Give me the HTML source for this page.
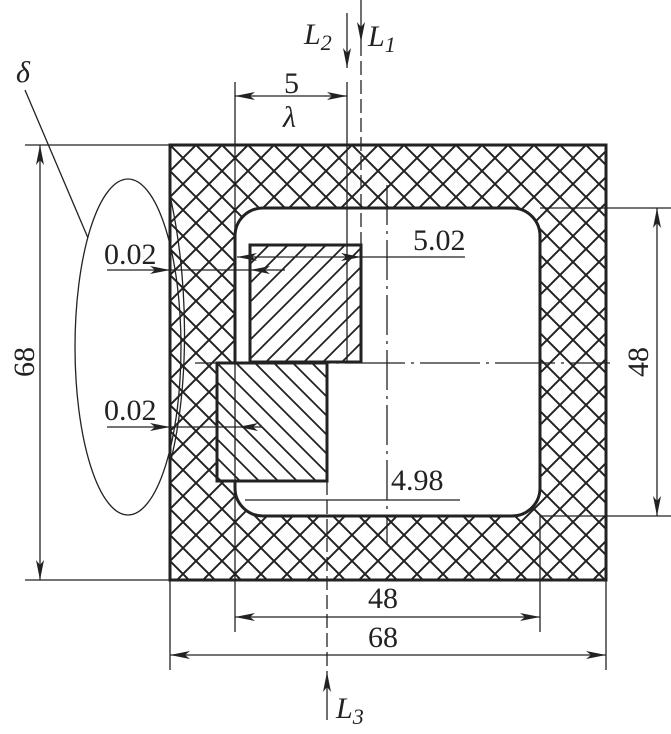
<!DOCTYPE html>
<html><head><meta charset="utf-8"><style>
html,body{margin:0;padding:0;background:#fff}
svg{display:block}
text{font-family:"Liberation Serif",serif;fill:#222}
</style></head><body>
<svg width="671" height="734" viewBox="0 0 671 734" xmlns="http://www.w3.org/2000/svg">
<defs>
<pattern id="cross" width="26" height="26" patternUnits="userSpaceOnUse" x="170" y="145">
<path d="M0 0L26 26M26 0L0 26M-2 24L2 28M24 -2L28 2M-2 2L2 -2M24 28L28 24" stroke="#222" stroke-width="2"/>
</pattern>
<pattern id="h1" width="19" height="19" patternUnits="userSpaceOnUse" x="250" y="245">
<path d="M0 19L19 0M-2 2L2 -2M17 21L21 17" stroke="#222" stroke-width="1.8"/>
</pattern>
<pattern id="h2" width="19" height="19" patternUnits="userSpaceOnUse" x="217" y="363">
<path d="M0 0L19 19M-2 17L2 21M17 -2L21 2" stroke="#222" stroke-width="1.8"/>
</pattern>
<marker id="a" viewBox="0 0 20 8" refX="20" refY="4" markerWidth="20" markerHeight="8" markerUnits="userSpaceOnUse" orient="auto-start-reverse">
<path d="M0 0L20 4L0 8L5 4Z" fill="#222"/>
</marker>
</defs>
<g fill="none" stroke="#222">
<rect x="170" y="145" width="436" height="435" fill="url(#cross)" stroke-width="3"/>
<rect x="235" y="208" width="305" height="308" rx="28" fill="#fff" stroke-width="3"/>
<rect x="250" y="245" width="111" height="117" fill="#fff" stroke-width="3"/>
<rect x="250" y="245" width="111" height="117" fill="url(#h1)" stroke-width="3"/>
<rect x="217" y="363" width="110" height="118" fill="#fff" stroke-width="3"/>
<rect x="217" y="363" width="110" height="118" fill="url(#h2)" stroke-width="3"/>
<g stroke-width="1.3">
<line x1="235" y1="82" x2="235" y2="632"/>
<line x1="540" y1="516" x2="540" y2="632"/>
<line x1="170" y1="580" x2="170" y2="670"/>
<line x1="606" y1="580" x2="606" y2="670"/>
<line x1="25" y1="145" x2="170" y2="145"/>
<line x1="25" y1="580" x2="170" y2="580"/>
<line x1="540" y1="208" x2="671" y2="208"/>
<line x1="540" y1="516" x2="671" y2="516"/>
<line x1="347" y1="82" x2="347" y2="362"/>
<line x1="361" y1="42" x2="361" y2="362" stroke-dasharray="14 5"/>
<line x1="327" y1="481" x2="327" y2="672" stroke-dasharray="14 5"/>
<line x1="387" y1="185" x2="387" y2="545" stroke-dasharray="40 6 3 6"/>
<line x1="195" y1="363" x2="610" y2="363" stroke-dasharray="60 6 3 6"/>
<line x1="40" y1="145" x2="40" y2="580" marker-start="url(#a)" marker-end="url(#a)"/>
<line x1="657" y1="208" x2="657" y2="516" marker-start="url(#a)" marker-end="url(#a)"/>
<line x1="235" y1="617" x2="540" y2="617" marker-start="url(#a)" marker-end="url(#a)"/>
<line x1="170" y1="655" x2="606" y2="655" marker-start="url(#a)" marker-end="url(#a)"/>
<line x1="235" y1="96" x2="347" y2="96" marker-start="url(#a)" marker-end="url(#a)"/>
<line x1="237" y1="257" x2="361" y2="257" marker-start="url(#a)" marker-end="url(#a)"/>
<line x1="361" y1="257" x2="465" y2="257"/>
<line x1="107" y1="270" x2="170" y2="270" marker-end="url(#a)"/>
<line x1="285" y1="270" x2="250" y2="270" marker-end="url(#a)"/>
<line x1="170" y1="270" x2="250" y2="270"/>
<line x1="107" y1="427" x2="170" y2="427" marker-end="url(#a)"/>
<line x1="262" y1="427" x2="238" y2="427" marker-end="url(#a)"/>
<line x1="170" y1="427" x2="238" y2="427"/>
<line x1="245" y1="500" x2="460" y2="500"/>
<line x1="347" y1="13" x2="347" y2="68" marker-end="url(#a)"/>
<line x1="361" y1="0" x2="361" y2="42" marker-end="url(#a)"/>
<line x1="327" y1="720" x2="327" y2="672" marker-end="url(#a)"/>
<ellipse cx="128" cy="347" rx="53" ry="168"/>
<line x1="25" y1="90" x2="88" y2="238"/>
<path d="M171 200 C188 280 190 380 171 460"/>
</g>
</g>
<g font-size="30">
<text x="16" y="82" font-style="italic">δ</text>
<text x="304" y="44" font-style="italic">L<tspan font-size="22" dy="6">2</tspan></text>
<text x="368" y="46" font-style="italic">L<tspan font-size="22" dy="6">1</tspan></text>
<text x="284" y="93">5</text>
<text x="283" y="127" font-style="italic">λ</text>
<text x="104" y="264">0.02</text>
<text x="413" y="250">5.02</text>
<text x="104" y="420">0.02</text>
<text x="391" y="490">4.98</text>
<text x="368" y="608">48</text>
<text x="368" y="647">68</text>
<text x="336" y="718" font-style="italic">L<tspan font-size="22" dy="6">3</tspan></text>
<text transform="translate(34,362) rotate(-90)" text-anchor="middle">68</text>
<text transform="translate(648,362) rotate(-90)" text-anchor="middle">48</text>
</g>
</svg>
</body></html>
